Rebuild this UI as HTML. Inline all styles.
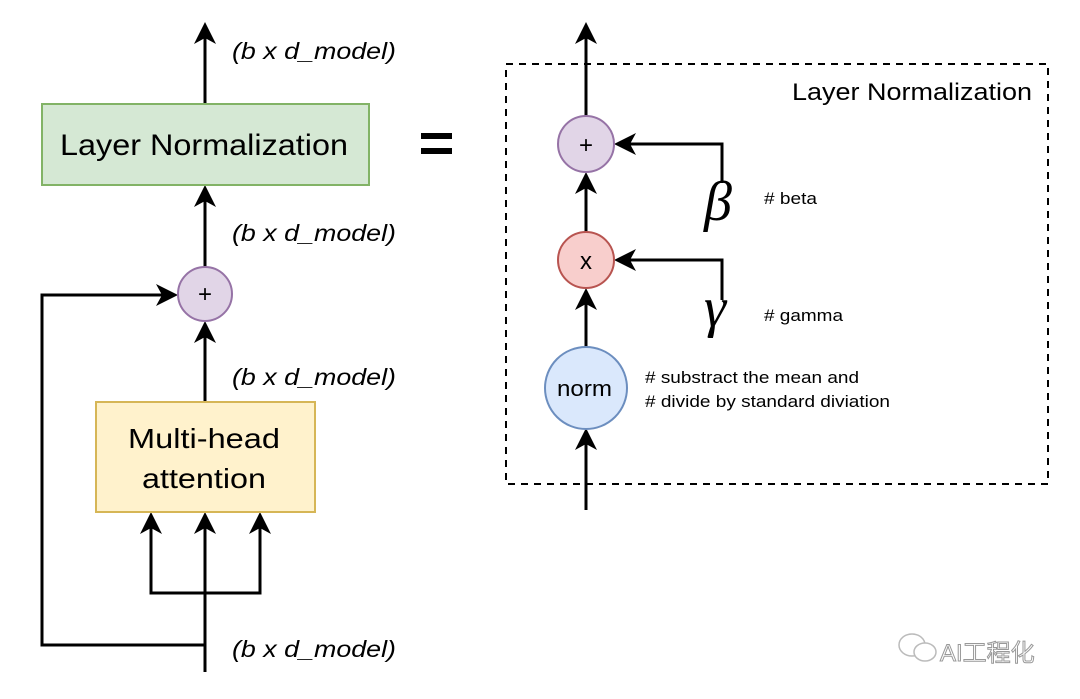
<!DOCTYPE html>
<html><head><meta charset="utf-8"><style>
html,body{margin:0;padding:0;background:#fff;width:1080px;height:699px;overflow:hidden}
svg{display:block}
text{font-family:"Liberation Sans",sans-serif;fill:#000}
.it{font-style:italic;font-size:23px}
</style></head><body>
<svg width="1080" height="699" viewBox="0 0 1080 699">
<g stroke="#000" stroke-width="3" fill="none">
<line x1="205" y1="103" x2="205" y2="30"/>
<line x1="205" y1="267" x2="205" y2="193"/>
<line x1="205" y1="402" x2="205" y2="329"/>
<line x1="205" y1="672" x2="205" y2="520"/>
<polyline points="205,645 42,645 42,295 170,295"/>
<polyline points="151,520 151,593 260,593 260,520"/>
<line x1="586" y1="116" x2="586" y2="30"/>
<line x1="586" y1="232" x2="586" y2="180"/>
<line x1="586" y1="348" x2="586" y2="296"/>
<line x1="586" y1="510" x2="586" y2="436"/>
<polyline points="722,183 722,144 622,144"/>
<polyline points="722,300 722,260 622,260"/>
</g>
<g fill="#000">
<polygon points="205,22 194,44 205,38 216,44"/>
<polygon points="205,185 194,207 205,201 216,207"/>
<polygon points="205,321 194,343 205,337 216,343"/>
<polygon points="205,512 194,534 205,528 216,534"/>
<polygon points="151,512 140,534 151,528 162,534"/>
<polygon points="260,512 249,534 260,528 271,534"/>
<polygon points="178,295 156,284 162,295 156,306"/>
<polygon points="586,22 575,44 586,38 597,44"/>
<polygon points="586,172 575,194 586,188 597,194"/>
<polygon points="586,288 575,310 586,304 597,310"/>
<polygon points="586,428 575,450 586,444 597,450"/>
<polygon points="614,144 636,133 630,144 636,155"/>
<polygon points="614,260 636,249 630,260 636,271"/>
</g>
<rect x="42" y="104" width="327" height="81" fill="#d5e8d4" stroke="#82b366" stroke-width="2"/>
<text x="60" y="155" font-size="30" textLength="288" lengthAdjust="spacingAndGlyphs">Layer Normalization</text>
<rect x="96" y="402" width="219" height="110" fill="#fff2cc" stroke="#d6b656" stroke-width="2"/>
<text x="128" y="448" font-size="28" textLength="152" lengthAdjust="spacingAndGlyphs">Multi-head</text>
<text x="142" y="488" font-size="28" textLength="124" lengthAdjust="spacingAndGlyphs">attention</text>
<circle cx="205" cy="294" r="27" fill="#e1d5e7" stroke="#9673a6" stroke-width="2"/>
<text x="205" y="302" font-size="24" text-anchor="middle">+</text>
<text class="it" x="232" y="59" textLength="164" lengthAdjust="spacingAndGlyphs">(b x d_model)</text>
<text class="it" x="232" y="241" textLength="164" lengthAdjust="spacingAndGlyphs">(b x d_model)</text>
<text class="it" x="232" y="385" textLength="164" lengthAdjust="spacingAndGlyphs">(b x d_model)</text>
<text class="it" x="232" y="657" textLength="164" lengthAdjust="spacingAndGlyphs">(b x d_model)</text>
<rect x="421" y="133" width="31" height="6"/>
<rect x="421" y="148" width="31" height="6"/>
<rect x="506" y="64" width="542" height="420" fill="none" stroke="#000" stroke-width="2" stroke-dasharray="7,6"/>
<text x="792" y="100" font-size="24" textLength="240" lengthAdjust="spacingAndGlyphs">Layer Normalization</text>
<circle cx="586" cy="144" r="28" fill="#e1d5e7" stroke="#9673a6" stroke-width="2"/>
<text x="586" y="153" font-size="24" text-anchor="middle">+</text>
<circle cx="586" cy="260" r="28" fill="#f8cecc" stroke="#b85450" stroke-width="2"/>
<text x="586" y="269" font-size="24" text-anchor="middle">x</text>
<circle cx="586" cy="388" r="41" fill="#dae8fc" stroke="#6c8ebf" stroke-width="2"/>
<text x="557" y="396" font-size="22" textLength="55" lengthAdjust="spacingAndGlyphs">norm</text>
<text x="704" y="220" font-size="56" font-style="italic" style="font-family:'Liberation Serif',serif">β</text>
<text x="704" y="326" font-size="56" font-style="italic" style="font-family:'Liberation Serif',serif">γ</text>
<text x="764" y="204" font-size="17" textLength="53" lengthAdjust="spacingAndGlyphs"># beta</text>
<text x="764" y="321" font-size="17" textLength="79" lengthAdjust="spacingAndGlyphs"># gamma</text>
<text x="645" y="383" font-size="17" textLength="214" lengthAdjust="spacingAndGlyphs"># substract the mean and</text>
<text x="645" y="407" font-size="17" textLength="245" lengthAdjust="spacingAndGlyphs"># divide by standard diviation</text>
<g fill="none" stroke="#bbb" stroke-width="1.5">
<ellipse cx="912" cy="645" rx="13" ry="11"/>
<ellipse cx="925" cy="652" rx="11" ry="9" fill="#fff"/>
</g>
<text x="940" y="661" font-size="24" style="font-family:'Liberation Sans','Noto Sans CJK SC',sans-serif;fill:#fff;stroke:#999;stroke-width:1">AI工程化</text>
</svg>
</body></html>
